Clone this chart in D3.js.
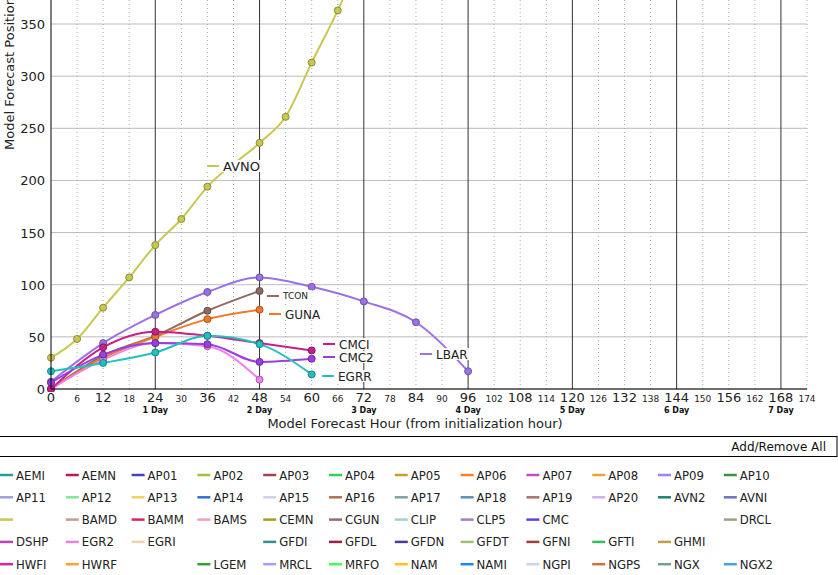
<!DOCTYPE html>
<html><head><meta charset="utf-8">
<script src="https://cdn.jsdelivr.net/npm/d3@7"></script>
<style>
body{margin:0;background:#fff;}
text{font-family:"DejaVu Sans",Verdana,sans-serif;}
.leg text{font-family:"Liberation Sans Narrow","DejaVu Sans Condensed","Liberation Sans",sans-serif;}
</style></head><body>
<svg id="chart" width="838" height="575"></svg>
<script>
// forecast hours and position errors (nm)
let avnoHours = [0, 6, 12, 18, 24, 30, 36, 48, 54, 60, 66, 72];
let avnoVals = [30, 48, 78, 107, 138, 163, 194, 236, 261, 313, 363, 420];
let lbarHours = [0, 12, 24, 36, 48, 60, 72, 84, 96];
let lbarVals = [7, 44, 71, 93, 107, 98, 84, 64, 17];
let shortHours = [0, 12, 24, 36, 48];
let tconVals = [0, 32, 51, 75, 94];
let gunaVals = [0, 30, 50, 67, 76];
let egr2Vals = [0, 28, 44, 41, 9];
let sixtyHours = [0, 12, 24, 36, 48, 60];
let cmciVals = [0, 40, 55, 51, 44, 37];
let cmc2Vals = [6, 33, 44, 43, 26, 29];
let egrrVals = [17, 25, 35, 51, 43, 14];

let series = [
  {name: "AVNO", color: "#c8c850", x: avnoHours, y: avnoVals, lab: [207, 166, 13]},
  {name: "LBAR", color: "#9b72e6", x: lbarHours, y: lbarVals, lab: [420, 354, 12]},
  {name: "TCON", color: "#8c6b62", x: shortHours, y: tconVals, lab: [267, 296, 9]},
  {name: "GUNA", color: "#f0782a", x: shortHours, y: gunaVals, lab: [269, 314, 12]},
  {name: "EGR2", color: "#ee82ee", x: shortHours, y: egr2Vals, lab: null},
  {name: "CMCI", color: "#c81e8c", x: sixtyHours, y: cmciVals, lab: [323, 344, 12]},
  {name: "CMC2", color: "#9a3ee0", x: sixtyHours, y: cmc2Vals, lab: [323, 357, 12]},
  {name: "EGRR", color: "#22c0c0", x: sixtyHours, y: egrrVals, lab: [322, 376, 12]}
];

let yTicks = [0, 50, 100, 150, 200, 250, 300, 350];
let dayLabels = ["1 Day", "2 Day", "3 Day", "4 Day", "5 Day", "6 Day", "7 Day"];

let legendRows = [
  [["AEMI","#1fa39c"],["AEMN","#c2185b"],["AP01","#4040d0"],["AP02","#a0c040"],["AP03","#a04050"],["AP04","#30d060"],["AP05","#c8a020"],["AP06","#ff7f20"],["AP07","#c050c0"],["AP08","#f0a030"],["AP09","#a080ff"],["AP10","#409040"]],
  [["AP11","#a0a0e0"],["AP12","#80e890"],["AP13","#f0d060"],["AP14","#3070d0"],["AP15","#d0d0f0"],["AP16","#b07050"],["AP17","#80a0a0"],["AP18","#6090b0"],["AP19","#b07070"],["AP20","#d0b0f0"],["AVN2","#208070"],["AVNI","#7070c0"]],
  [["","#c8c850"],["BAMD","#c0a090"],["BAMM","#e02060"],["BAMS","#f0a0c0"],["CEMN","#a0a020"],["CGUN","#907070"],["CLIP","#a0d0d0"],["CLP5","#a080c0"],["CMC","#6040e0"],null,null,["DRCL","#a0a080"]],
  [["DSHP","#c040c0"],["EGR2","#f080e0"],["EGRI","#f0d0b0"],null,["GFDI","#309090"],["GFDL","#a02040"],["GFDN","#4040a0"],["GFDT","#a0c070"],["GFNI","#a04040"],["GFTI","#30c060"],["GHMI","#c0a040"],null],
  [["HWFI","#e020a0"],["HWRF","#ffa030"],null,["LGEM","#30a030"],["MRCL","#a0a0ff"],["MRFO","#40ff60"],["NAM","#ffc020"],["NAMI","#2080ff"],["NGPI","#d0d0e8"],["NGPS","#d07040"],["NGX","#70a090"],["NGX2","#50a0e0"]]
];

let svg = d3.select("#chart");
let x = d3.scaleLinear().domain([0, 174]).range([51, 807]);
let y = d3.scaleLinear().domain([0, 350]).range([389, 24]);

let grid = svg.append("g");
grid.selectAll("line.h").data(yTicks).enter().append("line")
  .attr("x1", x(0)).attr("x2", x(174)).attr("y1", d => y(d)).attr("y2", d => y(d))
  .attr("stroke", "#bbb").attr("stroke-width", 1);
let vHours = d3.range(6, 175, 6);
grid.selectAll("line.v").data(vHours).enter().append("line")
  .attr("x1", d => x(d)).attr("x2", d => x(d)).attr("y1", 0).attr("y2", y(0))
  .attr("stroke", d => d % 24 == 0 ? "#333" : "#aaa")
  .attr("stroke-width", 1)
  .attr("stroke-dasharray", d => d % 24 == 0 ? null : "1,3");

svg.append("clipPath").attr("id", "pc").append("rect")
  .attr("x", 0).attr("y", 0).attr("width", 807).attr("height", 392);

let line = d3.line().curve(d3.curveMonotoneX);
let plot = svg.append("g").attr("clip-path", "url(#pc)");
series.forEach(s => {
  let pts = s.x.map((h, i) => [x(h), y(s.y[i])]);
  plot.append("path").attr("d", line(pts)).attr("fill", "none")
    .attr("stroke", s.color).attr("stroke-width", 2);
});
series.forEach(s => {
  let pts = s.x.map((h, i) => [x(h), y(s.y[i])]);
  plot.selectAll(null).data(pts).enter().append("circle")
    .attr("cx", d => d[0]).attr("cy", d => d[1]).attr("r", 3.5)
    .attr("fill", s.color).attr("stroke", d3.color(s.color).darker(1)).attr("stroke-width", 1);
});
// inline labels
series.filter(s => s.lab).forEach(s => {
  let [lx, ly, fs] = s.lab;
  let g = svg.append("g");
  let t = g.append("text").attr("x", lx + 16).attr("y", ly + fs * 0.38)
    .attr("font-size", fs).attr("fill", "#222").text(s.name);
  let w = t.node().getComputedTextLength();
  g.insert("rect", "text").attr("x", lx - 2).attr("y", ly - 6).attr("width", w + 22).attr("height", 12)
    .attr("fill", "#fff").attr("opacity", 0.9);
  g.append("line").attr("x1", lx).attr("x2", lx + 12).attr("y1", ly).attr("y2", ly)
    .attr("stroke", s.color).attr("stroke-width", 2);
});

svg.append("line").attr("x1", x(0)).attr("x2", x(0)).attr("y1", 0).attr("y2", y(0)).attr("stroke", "#000");
svg.append("line").attr("x1", x(0)).attr("x2", x(174)).attr("y1", y(0)).attr("y2", y(0)).attr("stroke", "#000");

svg.selectAll("text.yt").data(yTicks).enter().append("text")
  .attr("x", 45).attr("y", d => y(d) + 5).attr("text-anchor", "end")
  .attr("font-size", 13).attr("fill", "#222").text(d => d);
svg.append("text").attr("transform", "translate(14,150) rotate(-90)")
  .attr("font-size", 13).attr("fill", "#222").text("Model Forecast Position Error (n mi)");

let xHours = d3.range(0, 175, 6);
svg.selectAll("text.xt").data(xHours).enter().append("text")
  .attr("x", d => x(d)).attr("y", 402).attr("text-anchor", "middle")
  .attr("font-size", d => d % 12 == 0 ? 13 : 9).attr("fill", "#222").text(d => d);
svg.selectAll("text.day").data(dayLabels).enter().append("text")
  .attr("x", (d, i) => x((i + 1) * 24)).attr("y", 412.5).attr("text-anchor", "middle")
  .attr("font-size", 8).attr("font-weight", "bold").attr("fill", "#111").text(d => d);
svg.append("text").attr("x", 415).attr("y", 428).attr("text-anchor", "middle")
  .attr("font-size", 13).attr("fill", "#222").text("Model Forecast Hour (from initialization hour)");

svg.append("rect").attr("x", -1).attr("y", 436.5).attr("width", 838).attr("height", 20)
  .attr("fill", "#fff").attr("stroke", "#000");
svg.append("text").attr("x", 826).attr("y", 451).attr("text-anchor", "end")
  .attr("font-size", 12).attr("fill", "#111").text("Add/Remove All");

// legend grid
let leg = svg.append("g").attr("class", "leg");
legendRows.forEach((row, r) => {
  row.forEach((item, c) => {
    if (!item) return;
    let tx = 16 + c * 65.8, ty = 475 + r * 22.3;
    leg.append("line").attr("x1", tx - 16).attr("x2", tx - 3).attr("y1", ty).attr("y2", ty)
      .attr("stroke", item[1]).attr("stroke-width", 2.5);
    leg.append("text").attr("x", tx).attr("y", ty + 4.5)
      .attr("font-size", 13).attr("fill", "#222").text(item[0]);
  });
});
</script></body></html>
